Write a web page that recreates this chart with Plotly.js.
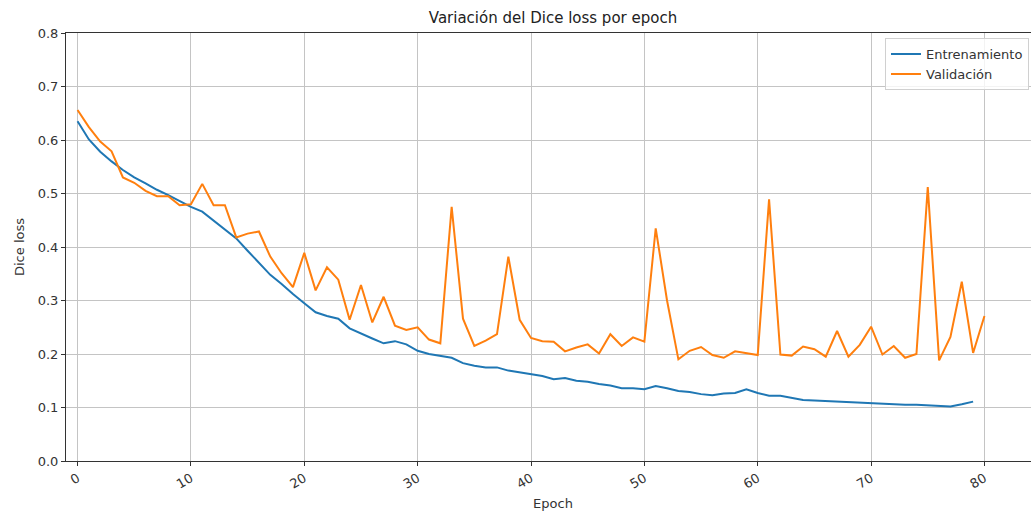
<!DOCTYPE html>
<html>
<head>
<meta charset="utf-8">
<script src="https://cdn.plot.ly/plotly-3.0.1.min.js"></script>
<style>
html, body { margin: 0; padding: 0; overflow: hidden; background: #fff; }
#chart { width: 1045px; height: 514px; }
</style>
</head>
<body>
<div id="chart"></div>
<script>
const epochsTrain = [0,1,2,3,4,5,6,7,8,9,10,11,12,13,14,15,16,17,18,19,20,21,22,23,24,25,26,27,28,29,30,31,32,33,34,35,36,37,38,39,40,41,42,43,44,45,46,47,48,49,50,51,52,53,54,55,56,57,58,59,60,61,62,63,64,65,66,67,68,69,70,71,72,73,74,75,76,77,78,79];
const epochsVal = [0,1,2,3,4,5,6,7,8,9,10,11,12,13,14,15,16,17,18,19,20,21,22,23,24,25,26,27,28,29,30,31,32,33,34,35,36,37,38,39,40,41,42,43,44,45,46,47,48,49,50,51,52,53,54,55,56,57,58,59,60,61,62,63,64,65,66,67,68,69,70,71,72,73,74,75,76,77,78,79,80];

const entrenamiento = [0.635,0.601,0.578,0.560,0.544,0.530,0.519,0.507,0.497,0.486,
  0.475,0.466,0.449,0.432,0.416,0.393,0.371,0.348,0.331,0.312,
  0.295,0.278,0.271,0.266,0.248,0.238,0.229,0.220,0.224,0.218,
  0.206,0.200,0.197,0.193,0.183,0.178,0.175,0.175,0.169,0.166,
  0.163,0.159,0.153,0.155,0.150,0.148,0.144,0.141,0.136,0.136,
  0.134,0.140,0.136,0.131,0.129,0.125,0.123,0.126,0.127,0.134,
  0.127,0.122,0.122,0.118,0.114,0.113,0.112,0.111,0.110,0.109,
  0.108,0.107,0.105,0.105,0.105,0.104,0.103,0.102,0.106,0.111];

const validacion = [0.656,0.624,0.597,0.579,0.530,0.520,0.505,0.495,0.495,0.478,
  0.480,0.518,0.478,0.478,0.418,0.425,0.429,0.382,0.351,0.325,
  0.389,0.319,0.362,0.339,0.264,0.329,0.259,0.307,0.253,0.245,
  0.250,0.227,0.220,0.475,0.266,0.215,0.225,0.237,0.382,0.264,
  0.230,0.224,0.223,0.205,0.212,0.218,0.201,0.237,0.215,0.231,
  0.223,0.435,0.300,0.190,0.206,0.213,0.198,0.193,0.205,0.201,
  0.198,0.489,0.199,0.197,0.214,0.209,0.195,0.243,0.195,0.217,
  0.251,0.199,0.215,0.193,0.200,0.512,0.188,0.232,0.335,0.202,
  0.271];

const xTicks = [0,10,20,30,40,50,60,70,80];
const yTicks = [0.0,0.1,0.2,0.3,0.4,0.5,0.6,0.7,0.8];

const font = 'DejaVu Sans, sans-serif';

const traces = [
  { x: epochsTrain, y: entrenamiento, type: 'scatter', mode: 'lines', name: 'Entrenamiento',
    line: { color: '#1f77b4', width: 2 } },
  { x: epochsVal, y: validacion, type: 'scatter', mode: 'lines', name: 'Validación',
    line: { color: '#ff7f0e', width: 2 } }
];

const layout = {
  width: 1045, height: 514,
  margin: { l: 66, r: 5, t: 33, b: 53, pad: 0 },
  paper_bgcolor: '#fff', plot_bgcolor: '#fff',
  font: { family: font, size: 13, color: '#333' },
  title: { text: 'Variación del Dice loss por epoch', font: { family: font, size: 15, color: '#222' },
    x: (553) / 1045, xanchor: 'center', y: 1 - 18 / 514, yanchor: 'middle', yref: 'container', xref: 'container' },
  xaxis: {
    range: [-1.02, 84.9], tickmode: 'array', tickvals: xTicks, ticktext: xTicks.map(String),
    tickangle: -30, ticks: 'outside', ticklen: 4, tickcolor: '#333',
    showgrid: true, gridcolor: '#c4c4c4', gridwidth: 1, zeroline: false,
    showline: true, linecolor: '#333', linewidth: 1, mirror: true,
    tickfont: { family: font, size: 13, color: '#333' },
    title: { text: 'Epoch', font: { family: font, size: 13, color: '#333' }, standoff: 8 },
    automargin: false
  },
  yaxis: {
    range: [0, 0.8], tickmode: 'array', tickvals: yTicks, ticktext: yTicks.map(v => v.toFixed(1)),
    ticks: 'outside', ticklen: 4, tickcolor: '#333',
    showgrid: true, gridcolor: '#c4c4c4', gridwidth: 1, zeroline: false,
    showline: true, linecolor: '#333', linewidth: 1, mirror: true,
    tickfont: { family: font, size: 13, color: '#333' },
    title: { text: 'Dice loss', font: { family: font, size: 13, color: '#333' }, standoff: 10 },
    automargin: false
  },
  legend: {
    x: 0.9887, xanchor: 'right', y: 0.988, yanchor: 'top',
    bgcolor: 'rgba(255,255,255,0.8)', bordercolor: '#d0d0d0', borderwidth: 1,
    font: { family: font, size: 13, color: '#333' }, tracegroupgap: 0, itemwidth: 30
  },
  showlegend: true
};

Plotly.newPlot('chart', traces, layout, { staticPlot: true, displayModeBar: false });
</script>
</body>
</html>
